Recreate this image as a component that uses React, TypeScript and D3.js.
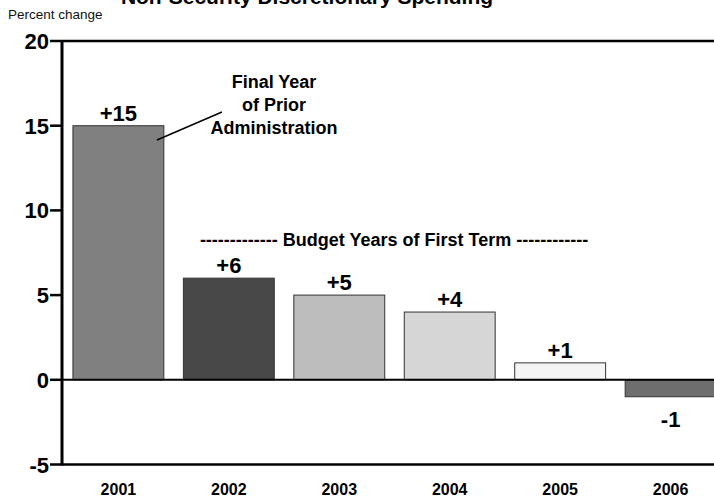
import React from "react";
import * as d3 from "d3";

const years = ["2001", "2002", "2003", "2004", "2005", "2006"];
const values = [15, 6, 5, 4, 1, -1];
const valueLabels = ["+15", "+6", "+5", "+4", "+1", "-1"];
const barColors = ["#808080", "#484848", "#bdbdbd", "#d6d6d6", "#f5f5f5", "#6e6e6e"];
const yTicks = [20, 15, 10, 5, 0, -5];

const W = 714;
const H = 497;

export default function App() {
  const x = d3.scaleBand<string>().domain(years).range([63, 726]).paddingInner(0.177).paddingOuter(0.09);
  const y = d3.scaleLinear().domain([-5, 20]).range([464.5, 41]);
  const font = "Arial, 'Liberation Sans', Helvetica, sans-serif";
  return (
    <svg width={W} height={H} style={{ position: "fixed", left: 0, top: 0, background: "#fff" }} fontFamily={font}>
      <text x={307} y={4} textAnchor="middle" fontSize={21} fontWeight="bold">Non-Security Discretionary Spending</text>
      <text x={8} y={19} fontSize={13.5} fill="#111">Percent change</text>
      {yTicks.map((t) => (
        <g key={t}>
          <line x1={50} x2={62} y1={y(t)} y2={y(t)} stroke="#000" strokeWidth={2.5} />
          <text x={49} y={y(t) + 8} textAnchor="end" fontSize={22} fontWeight="bold">{t}</text>
        </g>
      ))}
      {years.map((yr, i) => {
        const v = values[i];
        const top = y(Math.max(v, 0));
        const h = Math.abs(y(v) - y(0));
        const bx = x(yr)!;
        const bw = x.bandwidth();
        return (
          <g key={yr}>
            <rect x={bx} y={top} width={bw} height={h} fill={barColors[i]} stroke="#333" strokeWidth={1} />
            <text x={bx + bw / 2} y={v >= 0 ? y(v) - 5 : y(v) + 30} textAnchor="middle" fontSize={22} fontWeight="bold">{valueLabels[i]}</text>
            <text x={bx + bw / 2} y={495} textAnchor="middle" fontSize={16} fontWeight="bold">{yr}</text>
          </g>
        );
      })}
      <line x1={62} x2={W} y1={y(20)} y2={y(20)} stroke="#000" strokeWidth={2.5} />
      <line x1={62} x2={W} y1={y(0)} y2={y(0)} stroke="#000" strokeWidth={2} />
      <line x1={62} x2={W} y1={y(-5)} y2={y(-5)} stroke="#000" strokeWidth={2.5} />
      <line x1={62} x2={62} y1={y(20) - 1} y2={y(-5) + 1} stroke="#000" strokeWidth={3} />
      <line x1={157} y1={140} x2={222} y2={112} stroke="#000" strokeWidth={1.5} />
      <text textAnchor="middle" fontSize={18} fontWeight="bold">
        <tspan x={274} y={88}>Final Year</tspan>
        <tspan x={274} y={111}>of Prior</tspan>
        <tspan x={274} y={134}>Administration</tspan>
      </text>
      <text x={394} y={246} textAnchor="middle" fontSize={18} fontWeight="bold">------------- Budget Years of First Term ------------</text>
    </svg>
  );
}
